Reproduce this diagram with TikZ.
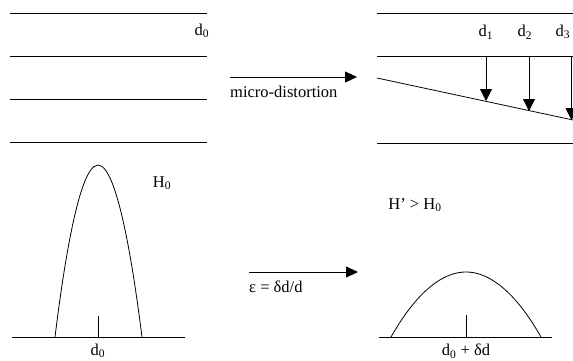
\documentclass[tikz,border=0pt]{standalone}
\usepackage{fontspec}
\setmainfont{Liberation Serif}
\usepackage{tikz}
\usetikzlibrary{arrows.meta,positioning,calc}
\tikzstyle{plane}=[line width=0.8pt]
\tikzstyle{peak}=[line width=0.8pt]
\tikzstyle{steparrow}=[line width=0.8pt, -{Triangle[length=12pt,width=12pt]}]
\tikzstyle{shiftarrow}=[line width=0.8pt, -{Triangle[length=12pt,width=11pt]}]
\tikzstyle{lbl}=[inner sep=0pt, font=\fontsize{16.5}{19}\selectfont]

\begin{document}
\begin{tikzpicture}[x=1pt, y=-1pt]
        \useasboundingbox (0,0) rectangle (573,361);

        % Plans réticulaires avant
        \draw[plane] (10,13) -- (207,13);
        \draw[plane] (10,56) -- (207,56);
        \draw[plane] (10,99) -- (207,99);
        \draw[plane] (10,142) -- (207,142);
        \node[lbl] (dzero) at (202,31) {d\textsubscript{0}};

        % Micro-distorsion
        \coordinate (ma) at (230,77);
        \coordinate (mb) at (357,77);
        \draw[shiftarrow] (ma) -- (mb);
        \node[lbl, anchor=north west] (mlbl) at (230,86) {micro-distortion};

        % Plans réticulaires après
        \draw[plane] (377,13) -- (573,13);
        \draw[plane] (377,56) -- (573,56);
        \draw[plane] (377,78) -- (573,120);
        \draw[plane] (377,143) -- (573,143);

        \coordinate (s1) at (486,56);
        \coordinate (t1) at (486,101);
        \coordinate (s2) at (529,56);
        \coordinate (t2) at (529,111);
        \coordinate (s3) at (571.5,56);
        \coordinate (t3) at (571.5,120);
        \draw[steparrow] (s1) -- (t1);
        \draw[steparrow] (s2) -- (t2);
        \draw[steparrow] (s3) -- (t3);
        \node[lbl] (done) at (486,32) {d\textsubscript{1}};
        \node[lbl] (dtwo) at (525,32) {d\textsubscript{2}};
        \node[lbl] (dthree) at (563,32) {d\textsubscript{3}};

        % Pic de diffraction initial
        \draw[plane] (12,337) -- (185,337);
        \draw[peak] (55,337) parabola bend (98,165) (142,337);
        \draw[plane] (98,316) -- (98,337);
        \node[lbl] (hzero) at (162,183) {H\textsubscript{0}};
        \node[lbl] (dzerob) at (98,351) {d\textsubscript{0}};

        % Déformation
        \coordinate (ea) at (249,272);
        \coordinate (eb) at (358,272);
        \draw[shiftarrow] (ea) -- (eb);
        \node[lbl, anchor=north west] (elbl) at (249,281) {ε = δd/d};

        % Pic élargi
        \draw[plane] (379,337) -- (552,337);
        \draw[peak] (391,337) parabola bend (466,272) (541,337);
        \draw[plane] (466,315) -- (466,337);
        \node[lbl] (hprime) at (415,205) {H’ > H\textsubscript{0}};
        \node[lbl] (dshift) at (466,351) {d\textsubscript{0} + δd};
      \end{tikzpicture}
\end{document}
